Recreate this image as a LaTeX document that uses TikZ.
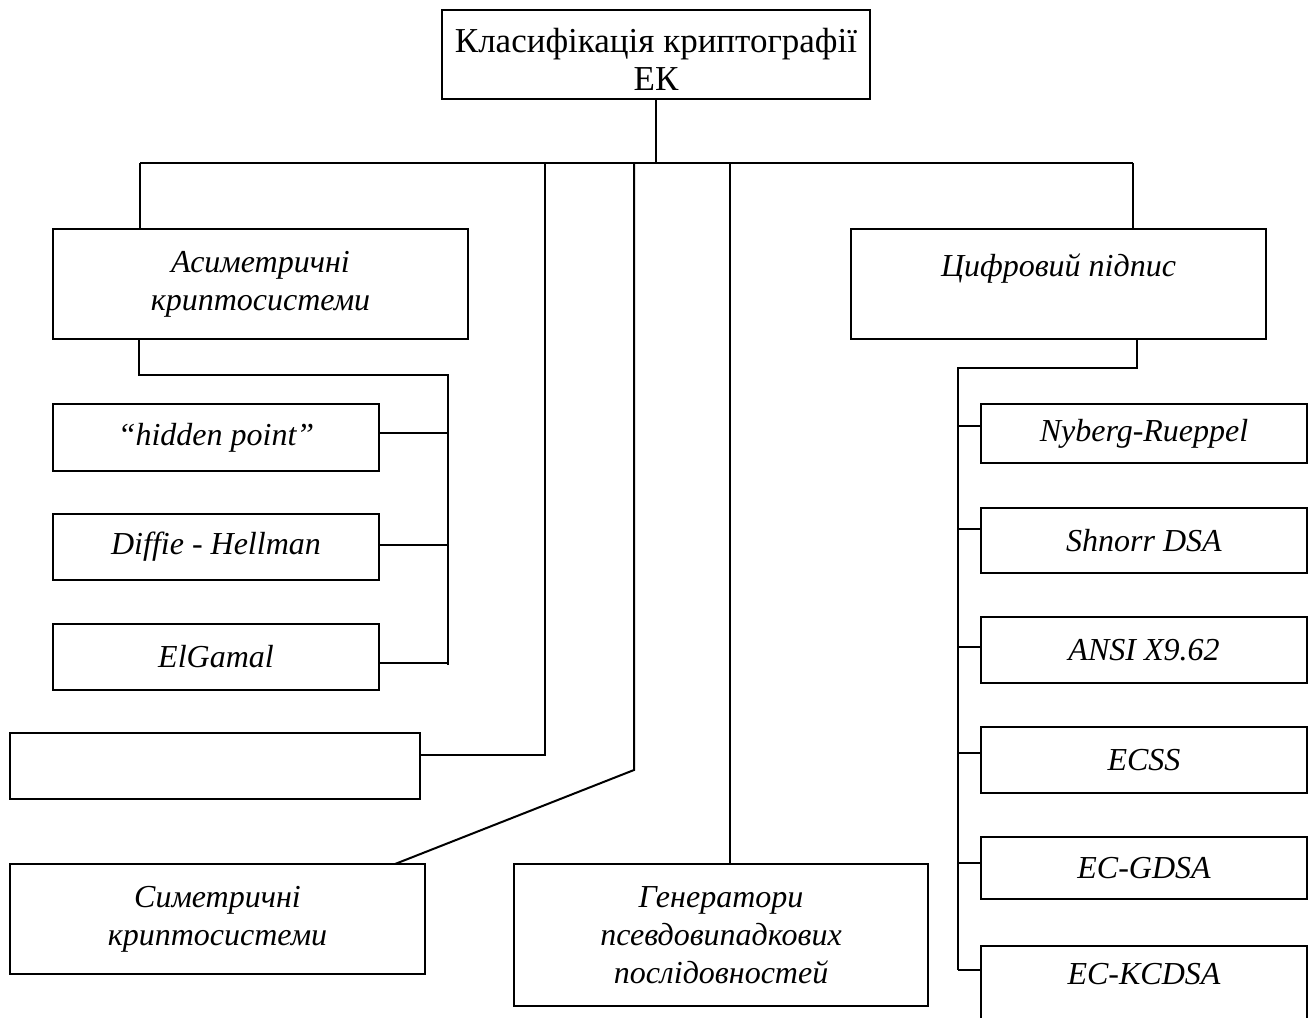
\documentclass[tikz,border=0pt]{standalone}
\usepackage{fontspec}
\setmainfont{Liberation Serif}
\usetikzlibrary{calc}
\tikzset{
  box/.style={draw, line width=2pt, inner sep=0pt, align=center,
    font=\fontsize{32}{38}\selectfont\itshape},
  conn/.style={line width=2pt}
}
\begin{document}
\begin{tikzpicture}[x=1pt,y=-1pt]
\useasboundingbox (0,0) rectangle (1314,1017);
% boxes
\node[box, font=\fontsize{35}{38}\selectfont, minimum width=428pt, minimum height=89pt] (top) at (656,54.5) {\rule{0pt}{33pt}Класифікація криптографії\\ЕК};
\node[box, minimum width=415pt, minimum height=110pt] (asym) at (260.5,284) {Асиметричні\\криптосистеми};
\node[box, minimum width=415pt, minimum height=110pt] (sig) at (1058.5,284) {Цифровий підпис\\\mbox{}};
\node[box, minimum width=326pt, minimum height=67pt] (hp) at (216,437.5) {“hidden point”};
\node[box, minimum width=326pt, minimum height=66pt] (dh) at (216,547) {Diffie - Hellman};
\node[box, minimum width=326pt, minimum height=66pt] (el) at (216,657) {ElGamal};
\node[box, minimum width=410pt, minimum height=66pt] (empty) at (215,766) {};
\node[box, minimum width=415pt, minimum height=110pt] (sym) at (217.5,919) {Симетричні\\криптосистеми};
\node[box, minimum width=414pt, minimum height=142pt] (gen) at (721,935) {Генератори\\псевдовипадкових\\послідовностей};
\node[box, minimum width=326pt, minimum height=59pt] (ny) at (1144,433.5) {Nyberg-Rueppel};
\node[box, minimum width=326pt, minimum height=65pt] (sh) at (1144,540.5) {Shnorr DSA};
\node[box, minimum width=326pt, minimum height=66pt] (ansi) at (1144,650) {ANSI X9.62};
\node[box, minimum width=326pt, minimum height=66pt] (ecss) at (1144,760) {ECSS};
\node[box, minimum width=326pt, minimum height=62pt] (gdsa) at (1144,868) {EC-GDSA};
\node[box, minimum width=326pt, minimum height=94pt] (kcdsa) at (1144,993) {EC-KCDSA\\\mbox{}};
% bus coordinates
\coordinate (busL) at (140,163);
\coordinate (busR) at (1133,163);
\coordinate (b545) at (545,163);
\coordinate (b634) at (634,163);
\coordinate (b730) at (730,163);
\coordinate (e1) at (545,755);
\coordinate (s1) at (634,770);
\coordinate (s2) at (395,864);
\coordinate (aL) at (139,375);
\coordinate (aR) at (448,375);
\coordinate (aB) at (448,665);
\coordinate (sT) at (1137,368);
\coordinate (sL) at (958,368);
\coordinate (sB) at (958,970);
% main tree
\draw[conn] (top.south) -- (top.south |- busL);
\draw[conn] (busL) -- (busR);
\draw[conn] (busL) -- (busL |- asym.north);
\draw[conn] (busR) -- (busR |- sig.north);
\draw[conn] (b545) -- (e1) -- (e1 -| empty.east);
\draw[conn] (b634) -- (s1) -- (s2);
\draw[conn] (b730) -- (b730 |- gen.north);
% asymmetric subtree
\draw[conn] (aL |- asym.south) -- (aL) -- (aR) -- (aB);
\draw[conn] (hp.east |- 0,433) -- (aR |- 0,433);
\draw[conn] (dh.east |- 0,545) -- (aR |- 0,545);
\draw[conn] (el.east |- 0,663) -- (aR |- 0,663);
% signature subtree
\draw[conn] (sT |- sig.south) -- (sT) -- (sL) -- (sB);
\draw[conn] (sL |- 0,426) -- (ny.west |- 0,426);
\draw[conn] (sL |- 0,529) -- (sh.west |- 0,529);
\draw[conn] (sL |- 0,647) -- (ansi.west |- 0,647);
\draw[conn] (sL |- 0,753) -- (ecss.west |- 0,753);
\draw[conn] (sL |- 0,863) -- (gdsa.west |- 0,863);
\draw[conn] (sB) -- (kcdsa.west |- sB);
\end{tikzpicture}
\end{document}
